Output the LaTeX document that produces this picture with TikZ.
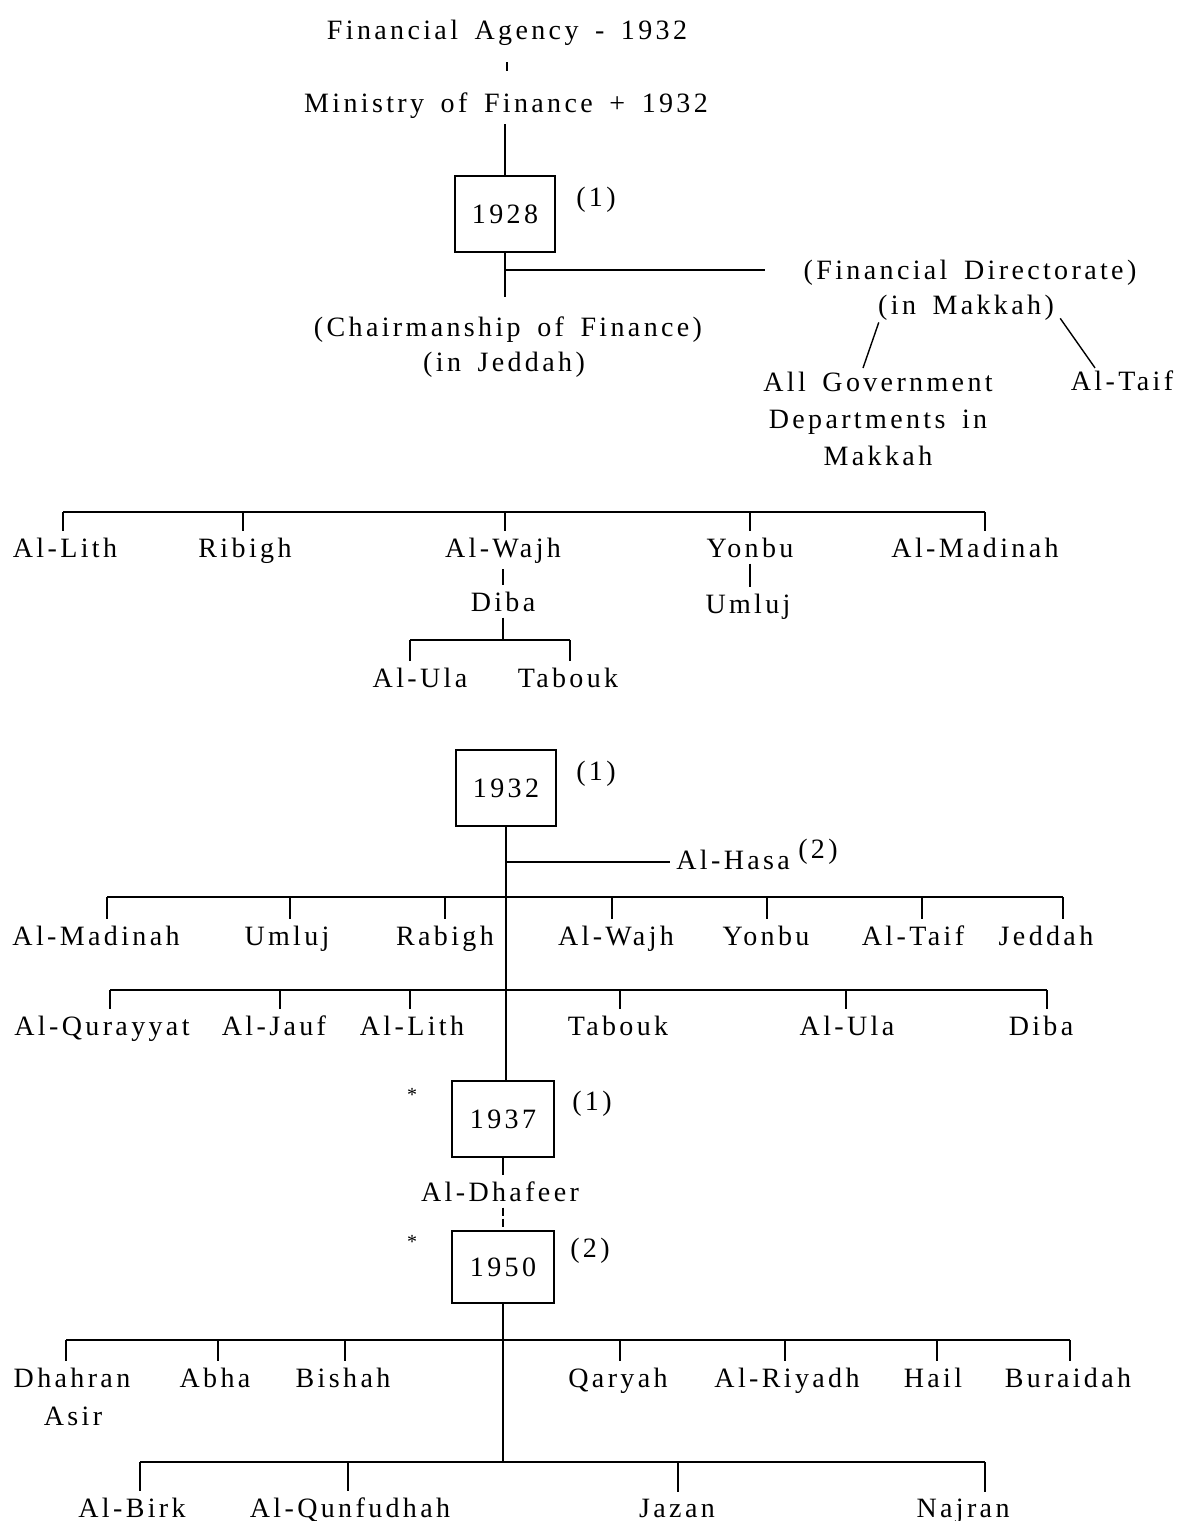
\documentclass[tikz,border=0pt]{standalone}
\usepackage{fontspec}
\setmainfont{Liberation Serif}[LetterSpace=12,WordSpace=1.6]
\begin{document}
\begin{tikzpicture}[x=0.5pt,y=-0.5pt,
  lbl/.style={font=\fontsize{14}{18.5}\selectfont, inner sep=3pt, anchor=base},
  yr/.style={draw, line width=0.9pt, minimum width=50pt, minimum height=38pt, inner sep=0pt, font=\fontsize{14}{18.5}\selectfont},
  ln/.style={line width=0.7pt},
  note/.style={font=\fontsize{14}{18.5}\selectfont, inner sep=1pt, anchor=base},
  star/.style={font=\fontsize{10}{12}\selectfont, inner sep=0pt}]
\useasboundingbox (0,0) rectangle (1182,1521);

% ---- top ----
\node[lbl] (fa) at (507,39) {Financial Agency - 1932};
\node[lbl] (mof) at (506,112) {Ministry of Finance + 1932};
\draw[ln] ([yshift=-5.5pt]fa.south) -- ([yshift=7.5pt]fa.south |- mof.north);

\node[yr] (y28) at (505,214) {1928};
\node[note] (n28) at (596,206) {(1)};
\draw[ln] (y28.north |- mof.south) -- (y28.north);

\node[lbl] (chair) at (508,336) {(Chairmanship of Finance)};
\node[lbl] (jed) at (504,371) {(in Jeddah)};
\draw[ln] (y28.south) -- ([yshift=6.5pt]y28.south |- chair.north);
\coordinate (j28) at (506,270);
\coordinate (fdend) at (765,270);
\draw[ln] (j28) -- (fdend);

\node[lbl] (fd) at (970,279) {(Financial Directorate)};
\node[lbl] (mak) at (966,314) {(in Makkah)};
\node[lbl, anchor=north, align=center] (allgov) at (878,366) {All Government\\Departments in\\Makkah};
\node[lbl] (taif0) at (1122,390) {Al-Taif};
\draw[ln] ([xshift=3.5pt,yshift=2pt]mak.south west) -- ([xshift=-7.5pt,yshift=-1pt]allgov.north);
\draw[ln] ([yshift=4pt]mak.south east) -- ([xshift=-13.5pt,yshift=-2pt]taif0.north);

% ---- 1928 group ----
\coordinate (r1L) at (63,512);
\coordinate (r1R) at (985,512);
\draw[ln] (r1L) -- (r1R);
\node[lbl] (lith1) at (65,557) {Al-Lith};
\node[lbl] (rib1) at (245,557) {Ribigh};
\node[lbl] (wajh1) at (503,557) {Al-Wajh};
\node[lbl] (yon1) at (750,557) {Yonbu};
\node[lbl] (mad1) at (975,557) {Al-Madinah};
\foreach \n/\x in {lith1/63, rib1/243, wajh1/505, yon1/750, mad1/985}
  \draw[ln] (\x,512) -- (\x,512 |- \n.north);
\node[lbl] (diba1) at (503,611) {Diba};
\node[lbl] (uml1) at (748,613) {Umluj};
\draw[ln] (wajh1.south) -- (wajh1.south |- diba1.north);
\draw[ln] (yon1.south) -- (yon1.south |- uml1.north);
\coordinate (r1bL) at (410,640);
\coordinate (r1bR) at (570,640);
\draw[ln] (diba1.south) -- (diba1.south |- r1bL);
\draw[ln] (r1bL) -- (r1bR);
\node[lbl] (ula1) at (420,687) {Al-Ula};
\node[lbl] (tab1) at (568,687) {Tabouk};
\draw[ln] (r1bL) -- (r1bL |- ula1.north);
\draw[ln] (r1bR) -- (r1bR |- tab1.north);

% ---- 1932 ----
\node[yr] (y32) at (506,788) {1932};
\node[note] (n32) at (596,780) {(1)};
\coordinate (jh) at (506,862);
\node[lbl, anchor=base west] (hasa) at (670,869) {Al-Hasa};
\node[note] (n32b) at (818,858) {(2)};
\draw[ln] (jh) -- (jh -| hasa.west);

\draw[ln] (107,897) -- (1063,897);
\node[lbl] (mad2) at (96,945) {Al-Madinah};
\node[lbl] (uml2) at (287,945) {Umluj};
\node[lbl] (rab2) at (445,945) {Rabigh};
\node[lbl] (wajh2) at (616,945) {Al-Wajh};
\node[lbl] (yon2) at (766,945) {Yonbu};
\node[lbl] (taif2) at (913,945) {Al-Taif};
\node[lbl] (jed2) at (1046,945) {Jeddah};
\foreach \n/\x in {mad2/107, uml2/290, rab2/445, wajh2/612, yon2/767, taif2/922, jed2/1063}
  \draw[ln] (\x,897) -- (\x,897 |- \n.north);

\draw[ln] (110,990) -- (1047,990);
\node[lbl] (qur3) at (102,1035) {Al-Qurayyat};
\node[lbl] (jauf3) at (274,1035) {Al-Jauf};
\node[lbl] (lith3) at (412,1035) {Al-Lith};
\node[lbl] (tab3) at (618,1035) {Tabouk};
\node[lbl] (ula3) at (847,1035) {Al-Ula};
\node[lbl] (diba3) at (1041,1035) {Diba};
\foreach \n/\x in {qur3/110, jauf3/280, lith3/410, tab3/620, ula3/846, diba3/1047}
  \draw[ln] (\x,990) -- (\x,990 |- \n.north);

% ---- 1937 / 1950 ----
\node[yr, minimum width=51pt] (y37) at (503,1119) {1937};
\node[note] (n37) at (592,1110) {(1)};
\node[star] (s37) at (412,1095) {*};
\draw[ln] (y32.south) -- (y32.south |- y37.north);

\node[lbl] (dhaf) at (500,1201) {Al-Dhafeer};
\node[yr, minimum width=51pt, minimum height=36pt] (y50) at (503,1267) {1950};
\node[note] (n50) at (590,1257) {(2)};
\node[star] (s50) at (412,1242) {*};
\draw[ln] (y37.south) -- (y37.south |- dhaf.north);
\draw[ln, dash pattern=on 4pt off 1.5pt] (y50.north |- dhaf.south) -- (y50.north);

\coordinate (r5L) at (140,1462);
\coordinate (r5R) at (985,1462);
\draw[ln] (y50.south) -- (y50.south |- r5L);

\draw[ln] (66,1340) -- (1070,1340);
\node[lbl] (dha4) at (72,1387) {Dhahran};
\node[lbl] (asir4) at (73,1425) {Asir};
\node[lbl] (abha4) at (215,1387) {Abha};
\node[lbl] (bish4) at (343,1387) {Bishah};
\node[lbl] (qar4) at (618,1387) {Qaryah};
\node[lbl] (riy4) at (787,1387) {Al-Riyadh};
\node[lbl] (hail4) at (933,1387) {Hail};
\node[lbl] (bur4) at (1068,1387) {Buraidah};
\foreach \n/\x in {dha4/66, abha4/218, bish4/345, qar4/620, riy4/785, hail4/937, bur4/1070}
  \draw[ln] (\x,1340) -- (\x,1340 |- \n.north);

\draw[ln] (r5L) -- (r5R);
\node[lbl] (birk5) at (132,1517) {Al-Birk};
\node[lbl] (qun5) at (350,1517) {Al-Qunfudhah};
\node[lbl] (jaz5) at (677,1517) {Jazan};
\node[lbl] (naj5) at (963,1517) {Najran};
\foreach \n/\x in {birk5/140, qun5/348, jaz5/678, naj5/985}
  \draw[ln] (\x,1462) -- (\x,1462 |- \n.north);
\end{tikzpicture}
\end{document}
